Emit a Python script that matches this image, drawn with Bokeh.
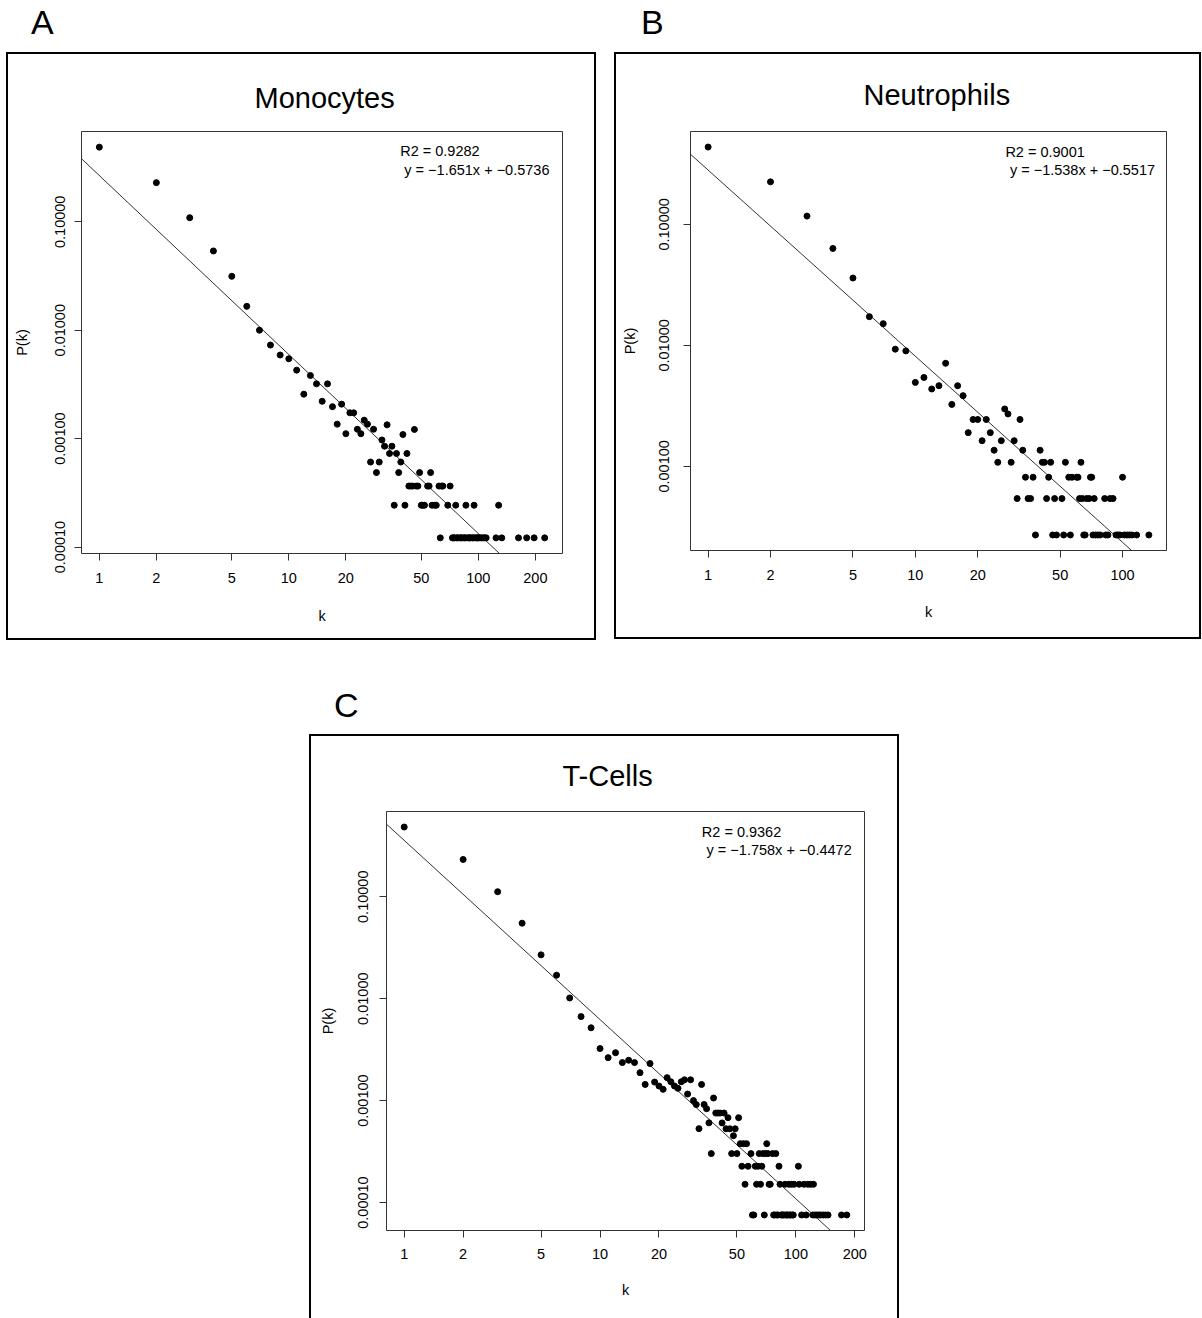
import numpy as np
from bokeh.plotting import figure
from bokeh.models import Range1d, FixedTicker, Label, Title, Div, Spacer, ColumnDataSource
from bokeh.layouts import column, row
from bokeh.embed import file_html
from bokeh.resources import INLINE

FONT = "Liberation Sans"

# ---------------- Panel A : Monocytes ----------------
mono_k = [1, 2, 3, 4, 5, 6, 7, 8, 9, 10, 11, 12, 13, 14, 15, 16, 17, 18, 19, 20,
          21, 22, 23, 24, 25, 26, 27, 28, 29, 30, 31, 32, 33, 34, 35, 36, 37, 38, 39, 40,
          41, 42, 43, 44, 45, 46, 47, 48, 49, 50, 51, 52, 54, 55, 56, 57, 59, 60, 62, 63,
          64, 65, 69, 71, 73, 74, 75, 76, 77, 78, 80, 81, 82, 84, 85, 86, 87, 89, 90, 91,
          93, 94, 95, 96, 98, 99, 100, 102, 104, 106, 108, 110, 124, 128, 133, 163, 180, 197, 224]
mono_p = [0.488, 0.2296, 0.109, 0.0538, 0.0314, 0.0166, 0.0100, 0.00729, 0.0059, 0.00545,
          0.00428, 0.00257, 0.00382, 0.0032, 0.00221, 0.0032, 0.00197, 0.00136, 0.00208, 0.00111,
          0.00173, 0.00173, 0.00122, 0.00111, 0.00148, 0.00136, 0.000608, 0.00122, 0.000486, 0.000608,
          0.000972, 0.000851, 0.00134, 0.000729, 0.000851, 0.000243, 0.000729, 0.000486, 0.000608, 0.00109,
          0.000243, 0.000729, 0.000365, 0.000365, 0.000365, 0.001215, 0.000365, 0.000365, 0.000486, 0.000243,
          0.000243, 0.000243, 0.000365, 0.000365, 0.000486, 0.000243, 0.000243, 0.000243, 0.000365, 0.0001215,
          0.000365, 0.000365, 0.000243, 0.000365, 0.0001215, 0.0001215, 0.0001215, 0.000243, 0.0001215, 0.0001215,
          0.0001215, 0.0001215, 0.0001215, 0.0001215, 0.0001215, 0.000243, 0.0001215, 0.0001215, 0.0001215, 0.0001215,
          0.0001215, 0.0001215, 0.000243, 0.0001215, 0.0001215, 0.0001215, 0.0001215, 0.0001215, 0.0001215, 0.0001215,
          0.0001215, 0.0001215, 0.0001215, 0.000243, 0.0001215, 0.0001215, 0.0001215, 0.0001215, 0.0001215]
mono_slope = -1.651
mono_intercept = -0.5736
mono_r2 = "0.9282"
mono_xticks = [1, 2, 5, 10, 20, 50, 100, 200]
mono_xlabels = ["1", "2", "5", "10", "20", "50", "100", "200"]
mono_yticks = [0.1, 0.01, 0.001, 0.0001]
mono_ylabels = ["0.10000", "0.01000", "0.00100", "0.00010"]

# ---------------- Panel B : Neutrophils ----------------
neut_k = [1, 2, 3, 4, 5, 6, 7, 8, 9, 10, 11, 12, 13, 14, 15, 16, 17, 18, 19, 20,
          21, 22, 23, 24, 25, 26, 27, 28, 29, 30, 31, 32, 33, 34, 35, 36, 37, 38, 40, 41,
          42, 43, 44, 45, 46, 47, 48, 51, 52, 53, 55, 56, 57, 60, 61, 62, 63, 64, 65, 66,
          67, 69, 70, 71, 72, 73, 74, 76, 78, 82, 83, 85, 87, 90, 93, 95, 97, 100, 102, 105,
          108, 111, 117, 134]
neut_p = [0.4355, 0.2245, 0.117, 0.0632, 0.036, 0.01726, 0.0151, 0.0093, 0.0090, 0.00494,
          0.00543, 0.00436, 0.00464, 0.00711, 0.00325, 0.00464, 0.00384, 0.0019, 0.00244, 0.00244,
          0.00163, 0.00244, 0.0019, 0.00136, 0.00108, 0.00163, 0.00298, 0.00271, 0.00108, 0.00163,
          0.000542, 0.00244, 0.00136, 0.000813, 0.000542, 0.000542, 0.000813, 0.000271, 0.00136, 0.00108,
          0.00108, 0.000542, 0.000813, 0.00108, 0.000271, 0.000542, 0.000271, 0.000542, 0.000271, 0.00108,
          0.000813, 0.000271, 0.000813, 0.000813, 0.000813, 0.000542, 0.00108, 0.000542, 0.000271, 0.000271,
          0.000542, 0.000542, 0.000813, 0.000813, 0.000271, 0.000542, 0.000271, 0.000271, 0.000271, 0.000542,
          0.000271, 0.000271, 0.000542, 0.000542, 0.000271, 0.000271, 0.000271, 0.000813, 0.000271, 0.000271,
          0.000271, 0.000271, 0.000271, 0.000271]
neut_slope = -1.538
neut_intercept = -0.5517
neut_r2 = "0.9001"
neut_xticks = [1, 2, 5, 10, 20, 50, 100]
neut_xlabels = ["1", "2", "5", "10", "20", "50", "100"]
neut_yticks = [0.1, 0.01, 0.001]
neut_ylabels = ["0.10000", "0.01000", "0.00100"]

# ---------------- Panel C : T-Cells ----------------
tcell_k = [1, 2, 3, 4, 5, 6, 7, 8, 9, 10, 11, 12, 13, 14, 15, 16, 17, 18, 19, 20,
           21, 22, 23, 24, 25, 26, 27, 28, 29, 30, 31, 32, 33, 34, 35, 36, 37, 38, 39, 40,
           41, 42, 43, 44, 45, 46, 47, 48, 49, 50, 51, 52, 53, 54, 55, 56, 57, 59, 60, 61,
           62, 63, 64, 65, 66, 67, 68, 69, 70, 71, 72, 73, 74, 76, 77, 78, 79, 80, 81, 82,
           83, 84, 85, 86, 87, 88, 89, 90, 91, 92, 93, 94, 95, 96, 97, 98, 103, 104, 107, 110,
           113, 115, 119, 122, 123, 125, 128, 131, 134, 138, 142, 146, 171, 182]
tcell_p = [0.483, 0.232, 0.112, 0.0550, 0.0269, 0.0170, 0.01016, 0.00667, 0.00518, 0.00324,
           0.00264, 0.00295, 0.00236, 0.00249, 0.00236, 0.00188, 0.00144, 0.00231, 0.00152, 0.00139,
           0.00129, 0.00168, 0.00153, 0.00139, 0.00132, 0.00153, 0.0016, 0.00116, 0.0016, 0.001,
           0.000915, 0.000531, 0.00144, 0.000915, 0.000832, 0.000605, 0.000302, 0.00106, 0.000755, 0.000755,
           0.000755, 0.000604, 0.000755, 0.000529, 0.00068, 0.000529, 0.000302, 0.000453, 0.000529, 0.000302,
           0.00068, 0.000378, 0.000227, 0.000378, 0.000151, 0.000378, 0.000227, 0.000302, 0.0000755, 0.0000755,
           0.000227, 0.000151, 0.000227, 0.000302, 0.000151, 0.000227, 0.000302, 0.0000755, 0.000302, 0.000378,
           0.000302, 0.000151, 0.000151, 0.000302, 0.0000755, 0.0000755, 0.000302, 0.0000755, 0.0000755, 0.000227,
           0.000151, 0.0000755, 0.0000755, 0.0000755, 0.0000755, 0.000151, 0.0000755, 0.0000755, 0.0000755, 0.000151,
           0.0000755, 0.0000755, 0.000151, 0.0000755, 0.0000755, 0.000151, 0.000227, 0.000151, 0.0000755, 0.000151,
           0.0000755, 0.000151, 0.000151, 0.0000755, 0.000151, 0.0000755, 0.0000755, 0.0000755, 0.0000755, 0.0000755,
           0.0000755, 0.0000755, 0.0000755, 0.0000755]
tcell_slope = -1.758
tcell_intercept = -0.4472
tcell_r2 = "0.9362"
tcell_xticks = [1, 2, 5, 10, 20, 50, 100, 200]
tcell_xlabels = ["1", "2", "5", "10", "20", "50", "100", "200"]
tcell_yticks = [0.1, 0.01, 0.001, 0.0001]
tcell_ylabels = ["0.10000", "0.01000", "0.00100", "0.00010"]


def fmt(v):
    return ("%g" % v).replace("-", "\u2212")


def overrides(ticks, labels):
    d = {}
    for t, l in zip(ticks, labels):
        d[t] = l
        d[str(t)] = l
    return d


def panel(title, k, p, slope, intercept, r2, xt, xl, yt, yl,
          fw, fh, bl, br, bt, bb, title_left, title_so, r2_pos, eq_pos, css,
          ylab_so, yax_so, xlab_so, xax_so):
    lk = np.log10(np.array(k, dtype=float))
    lp = np.log10(np.array(p, dtype=float))
    px = 0.04 * (lk.max() - lk.min())
    py = 0.04 * (lp.max() - lp.min())
    xr = Range1d(10 ** (lk.min() - px), 10 ** (lk.max() + px))
    yr = Range1d(10 ** (lp.min() - py), 10 ** (lp.max() + py))

    f = figure(x_axis_type="log", y_axis_type="log", x_range=xr, y_range=yr,
               frame_width=fw, frame_height=fh,
               min_border_left=bl, min_border_right=br, min_border_top=bt, min_border_bottom=bb,
               toolbar_location=None, output_backend="svg")
    f.styles = css
    f.grid.visible = False
    f.outline_line_color = "#333333"
    f.outline_line_width = 1
    f.background_fill_color = "white"
    f.border_fill_color = "white"

    f.add_layout(Title(text=title, align="left", text_font=FONT, text_font_size="29px",
                       text_font_style="normal", text_color="black", offset=title_left,
                       standoff=title_so), "above")

    for ax in (f.xaxis[0], f.yaxis[0]):
        ax.axis_line_color = None
        ax.minor_tick_line_color = None
        ax.major_tick_in = 0
        ax.major_tick_out = 7
        ax.major_tick_line_color = "#333333"
        ax.major_label_text_font = FONT
        ax.major_label_text_font_size = "14.5px"
        ax.major_label_text_color = "black"
        ax.axis_label_text_font = FONT
        ax.axis_label_text_font_size = "14.5px"
        ax.axis_label_text_font_style = "normal"
        ax.axis_label_text_color = "black"

    f.xaxis.ticker = FixedTicker(ticks=xt)
    f.xaxis.major_label_overrides = overrides(xt, xl)
    f.xaxis.major_label_standoff = xlab_so
    f.xaxis.axis_label = "k"
    f.xaxis.axis_label_standoff = xax_so

    f.yaxis.ticker = FixedTicker(ticks=yt)
    f.yaxis.major_label_overrides = overrides(yt, yl)
    f.yaxis.major_label_orientation = "vertical"
    f.yaxis.major_label_standoff = ylab_so
    f.yaxis.axis_label = "P(k)"
    f.yaxis.axis_label_standoff = yax_so

    xs = [xr.start, xr.end]
    ys = [10 ** (intercept + slope * np.log10(x)) for x in xs]
    f.line(xs, ys, line_color="#333333", line_width=1)

    src = ColumnDataSource(dict(k=k, p=p))
    f.scatter(x="k", y="p", source=src, size=6, marker="circle",
              fill_color="black", line_color="black")

    f.add_layout(Label(x=r2_pos[0], y=r2_pos[1], text="R2 = " + r2, text_font=FONT,
                       text_font_size="14.5px", text_baseline="middle", text_align="left",
                       text_color="black"))
    f.add_layout(Label(x=eq_pos[0], y=eq_pos[1],
                       text="y = " + fmt(slope) + "x + " + fmt(intercept), text_font=FONT,
                       text_font_size="14.5px", text_baseline="middle", text_align="left",
                       text_color="black"))
    return f


border = {"border": "2px solid black", "background-color": "white"}
borderC = {"border": "2px solid black", "border-bottom": "none", "background-color": "white"}

pA = panel("Monocytes", mono_k, mono_p, mono_slope, mono_intercept, mono_r2,
           mono_xticks, mono_xlabels, mono_yticks, mono_ylabels,
           477, 418, 73, 36, 72, 94, 173, 36, (38.7, 0.4457), (40.7, 0.303), border,
           9, 23, 12, 22)
pB = panel("Neutrophils", neut_k, neut_p, neut_slope, neut_intercept, neut_r2,
           neut_xticks, neut_xlabels, neut_yticks, neut_ylabels,
           472, 415, 74, 37, 77, 91, 173, 41, (27.2, 0.3935), (28.6, 0.280), border,
           14, 19, 12, 21)
pC = panel("T-Cells", tcell_k, tcell_p, tcell_slope, tcell_intercept, tcell_r2,
           tcell_xticks, tcell_xlabels, tcell_yticks, tcell_ylabels,
           474, 417, 75, 37, 75, 90, 176, 39, (33.1, 0.432), (35.0, 0.286), borderC,
           11, 20, 11, 20)


def letter(t, w, h):
    return Div(text=t, width=w, height=h, margin=0,
               styles={"font-family": FONT, "font-size": "34px", "line-height": "%dpx" % h,
                       "color": "black"})


top = row(Spacer(width=31, height=44, margin=0), letter("A", 580, 44),
          Spacer(width=30, height=44, margin=0), letter("B", 500, 44))
top = column(top, Spacer(height=8, margin=0))
mid = row(Spacer(width=6, height=590, margin=0), pA, Spacer(width=18, height=590, margin=0), pB)
lc = column(Spacer(height=41, margin=0),
            row(Spacer(width=334, height=44, margin=0), letter("C", 200, 44)),
            Spacer(height=7, margin=0))
bot = row(Spacer(width=309, height=584, margin=0), pC)
layout = column(top, mid, lc, bot)

html = file_html(layout, INLINE, "Degree distributions")
open("out.html", "w").write(html)
